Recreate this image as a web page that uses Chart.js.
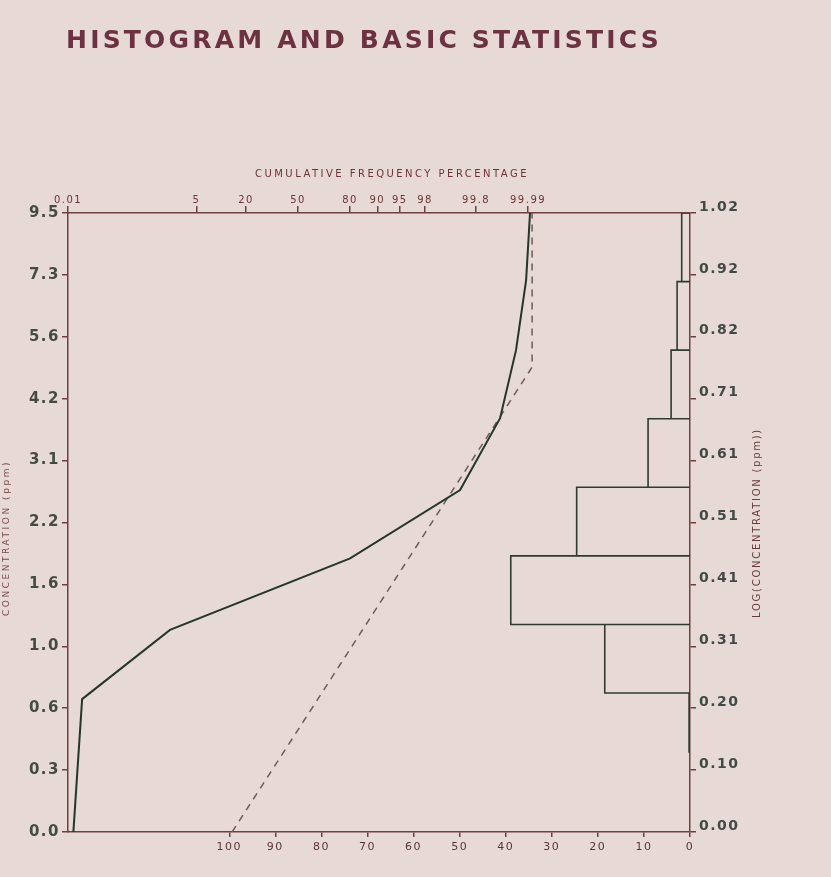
<!DOCTYPE html>
<html>
<head>
<meta charset="utf-8">
<script src="https://cdn.jsdelivr.net/npm/chart.js@4/dist/chart.umd.min.js"></script>
<style>
  html, body { margin: 0; padding: 0; background: #e7d9d6; }
  #wrap { width: 831px; height: 877px; }
</style>
</head>
<body>
<div id="wrap"><canvas id="chart"></canvas></div>
<script>
// ticks of the probability axis (top), in percent
const pctTicks = [0.01, 5, 20, 50, 80, 90, 95, 98, 99.8, 99.99];
// left axis labels (concentration ppm) and right axis labels (log scale)
const concLabels = ["0.0", "0.3", "0.6", "1.0", "1.6", "2.2", "3.1", "4.2", "5.6", "7.3", "9.5"];
const logLabels = ["0.00", "0.10", "0.20", "0.31", "0.41", "0.51", "0.61", "0.71", "0.82", "0.92", "1.02"];
// bottom axis (histogram frequency)
const freqTicks = [100, 90, 80, 70, 60, 50, 40, 30, 20, 10, 0];

// histogram, bins in log(concentration), bottom to top
const binEdges = [0.132, 0.229, 0.342, 0.455, 0.568, 0.681, 0.794, 0.907, 1.02];
const binFreq = [0.2, 18.5, 38.9, 24.6, 9.1, 4.1, 2.8, 1.8];

// observed cumulative frequency curve
const obsLog = [0, 0.219, 0.333, 0.451, 0.5635, 0.682, 0.794, 0.9095, 1.02];
const obsPct = [0.014, 0.024, 1.92, 80.0, 99.56, 99.9457, 99.9788, 99.9887, 99.9912];

// fitted lognormal line (dashed)
const fitLog = [0, 0.766, 1.02];
const fitPct = [14.3, 99.9923, 99.9923];

// inverse normal cdf (Acklam), for the probability axis
function probit(pct) {
  const p = pct / 100;
  const a = [-3.969683028665376e+01, 2.209460984245205e+02, -2.759285104469687e+02, 1.383577518672690e+02, -3.066479806614716e+01, 2.506628277459239e+00];
  const b = [-5.447609879822406e+01, 1.615858368580409e+02, -1.556989798598866e+02, 6.680131188771972e+01, -1.328068155288572e+01];
  const c = [-7.784894002430293e-03, -3.223964580411365e-01, -2.400758277161838e+00, -2.549732539343734e+00, 4.374664141464968e+00, 2.938163982698783e+00];
  const d = [7.784695709041462e-03, 3.224671290700398e-01, 2.445134137142996e+00, 3.754408661907416e+00];
  const lo = 0.02425;
  const tail = q => (((((c[0]*q+c[1])*q+c[2])*q+c[3])*q+c[4])*q+c[5]) / ((((d[0]*q+d[1])*q+d[2])*q+d[3])*q+1);
  if (p < lo) return tail(Math.sqrt(-2 * Math.log(p)));
  if (p > 1 - lo) return -tail(Math.sqrt(-2 * Math.log(1 - p)));
  const q = p - 0.5, r = q * q;
  return (((((a[0]*r+a[1])*r+a[2])*r+a[3])*r+a[4])*r+a[5])*q / (((((b[0]*r+b[1])*r+b[2])*r+b[3])*r+b[4])*r+1);
}

// histogram outline: each bin drawn as an open box against the right axis (freq 0)
const histPoints = [];
binFreq.forEach((f, i) => {
  histPoints.push({ x: 0, y: binEdges[i] }, { x: f, y: binEdges[i] },
                  { x: f, y: binEdges[i + 1] }, { x: 0, y: binEdges[i + 1] },
                  { x: null, y: null });
});

const axisColor = "#6e403f";
const inkGreen = "#26352b";

// texte en espacement large, comme le lettrage d'origine
function spacedText(ctx, text, cx, cy, width, font, color, rot) {
  ctx.save();
  ctx.font = font;
  ctx.letterSpacing = "0px";
  const w = ctx.measureText(text).width;
  ctx.letterSpacing = ((width - w) / text.length) + "px";
  ctx.fillStyle = color;
  ctx.textBaseline = "middle";
  ctx.textAlign = "left";
  ctx.translate(cx, cy);
  if (rot) ctx.rotate(rot);
  ctx.fillText(text, -width / 2, 0);
  ctx.restore();
}

const textPlugin = {
  id: "texts",
  beforeDraw(chart) { chart.ctx.letterSpacing = "1.5px"; },
  afterDraw(chart) {
    const ctx = chart.ctx;
    ctx.letterSpacing = "0px";
    spacedText(ctx, "HISTOGRAM AND BASIC STATISTICS", 364, 41, 596, 'bold 25px "DejaVu Sans"', "#6d3241");
    spacedText(ctx, "CUMULATIVE FREQUENCY PERCENTAGE", 392, 174, 274, '10px "DejaVu Sans"', "#6b3535");
    spacedText(ctx, "CONCENTRATION (ppm)", 7, 538, 156, '9px "DejaVu Sans"', "#7a4a4a", -Math.PI / 2);
    spacedText(ctx, "LOG(CONCENTRATION (ppm))", 757, 523, 190, '10px "DejaVu Sans"', "#6a3a3a", -Math.PI / 2);
  }
};

const axisBase = {
  grid: { drawOnChartArea: false, offset: false, color: axisColor, lineWidth: 1.5 },
  border: { display: true, color: axisColor, width: 1.5 },
};

new Chart(document.getElementById("chart").getContext("2d"), {
  type: "line",
  data: {
    datasets: [
      {
        label: "Histogram",
        xAxisID: "xFreq",
        yAxisID: "yLeft",
        data: histPoints,
        borderColor: "#2e3a32",
        borderWidth: 1.6,
        pointRadius: 0,
        spanGaps: false,
        tension: 0,
      },
      {
        label: "Cumulative",
        xAxisID: "xTop",
        yAxisID: "yLeft",
        data: obsPct.map((p, i) => ({ x: probit(p), y: obsLog[i] })),
        borderColor: inkGreen,
        borderWidth: 2,
        pointRadius: 0,
        tension: 0,
      },
      {
        label: "Lognormal",
        xAxisID: "xTop",
        yAxisID: "yLeft",
        data: fitPct.map((p, i) => ({ x: probit(p), y: fitLog[i] })),
        borderColor: "#6e5a5e",
        borderWidth: 1.5,
        borderDash: [7, 6],
        pointRadius: 0,
        tension: 0,
      },
    ],
  },
  options: {
    responsive: true,
    maintainAspectRatio: false,
    animation: false,
    layout: { padding: 0 },
    plugins: { legend: { display: false }, tooltip: { enabled: false }, title: { display: false } },
    scales: {
      xTop: {
        ...axisBase,
        type: "linear",
        position: "top",
        min: -3.72,
        max: 6.338,
        offset: false,
        grid: { ...axisBase.grid, tickLength: 7 },
        afterBuildTicks: (s) => { s.ticks = pctTicks.map((p) => ({ value: probit(p) })); },
        ticks: {
          autoSkip: false, maxRotation: 0, padding: 0,
          callback: (v, i) => String(pctTicks[i]),
          font: { family: "DejaVu Sans", size: 10 },
          color: "#6a3434",
        },
        afterFit: (s) => { s.height = 213; },
      },
      xFreq: {
        ...axisBase,
        type: "linear",
        position: "bottom",
        reverse: true,
        min: 0,
        max: 135,
        offset: false,
        grid: { ...axisBase.grid, tickLength: 5 },
        afterBuildTicks: (s) => { s.ticks = freqTicks.map((v) => ({ value: v })); },
        ticks: {
          autoSkip: false, maxRotation: 0, padding: 4,
          callback: (v, i) => String(freqTicks[i]),
          font: { family: "DejaVu Sans", size: 11 },
          color: "#5a3535",
        },
        afterFit: (s) => { s.height = 877 - 832; },
      },
      yLeft: {
        ...axisBase,
        type: "linear",
        position: "left",
        min: 0,
        max: 1.02,
        offset: false,
        grid: { ...axisBase.grid, tickLength: 6 },
        afterBuildTicks: (s) => { s.ticks = concLabels.map((_, i) => ({ value: i * 1.02 / (concLabels.length - 1) })); },
        ticks: {
          autoSkip: false, padding: 2,
          callback: (v, i) => concLabels[i],
          font: { family: "DejaVu Sans", size: 15, weight: "bold" },
          color: "#454b44",
        },
        afterFit: (s) => { s.width = 68; },
      },
      yRight: {
        ...axisBase,
        type: "linear",
        position: "right",
        min: 0,
        max: 1.02,
        offset: false,
        grid: { ...axisBase.grid, tickLength: 6 },
        afterBuildTicks: (s) => { s.ticks = logLabels.map((_, i) => ({ value: i * 1.02 / (logLabels.length - 1) })); },
        ticks: {
          autoSkip: false, padding: 3, labelOffset: -6,
          callback: (v, i) => logLabels[i],
          font: { family: "DejaVu Sans", size: 14, weight: "bold" },
          color: "#414a44",
        },
        afterFit: (s) => { s.width = 831 - 690; },
      },
    },
  },
  plugins: [textPlugin],
});
</script>
</body>
</html>
